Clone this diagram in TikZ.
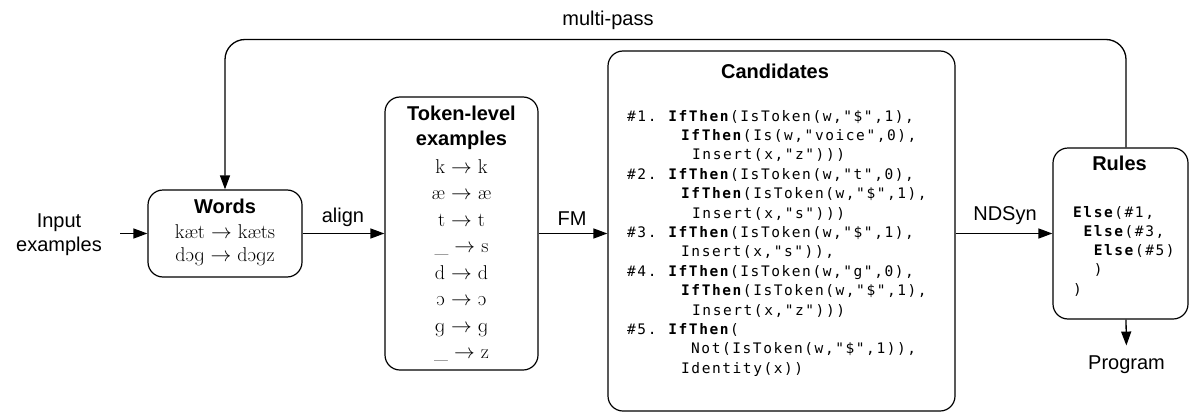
\documentclass[tikz,border=0pt]{standalone}
\usepackage[safe]{tipa}
\usepackage{fontspec}
\setsansfont{Liberation Sans}
\setmonofont{DejaVu Sans Mono}[LetterSpace=10.8]
\usetikzlibrary{arrows.meta}
\begin{document}
\begin{tikzpicture}[x=1pt,y=-1pt,
  box/.style={draw,line width=1.2pt,rounded corners=15pt,inner sep=0pt},
  lbl/.style={font=\sffamily\fontsize{20}{24}\selectfont,inner sep=0pt,anchor=base},
  ttl/.style={font=\sffamily\bfseries\fontsize{20}{24}\selectfont,inner sep=0pt,anchor=base},
  ipa/.style={font=\fontsize{20}{24}\selectfont,inner sep=0pt,anchor=base},
  code/.style={font=\ttfamily\fontsize{14.5}{19}\selectfont,inner sep=0pt,anchor=base west},
  arr/.style={-{Triangle[length=14pt,width=10pt]},line width=1.3pt}]
\useasboundingbox (0,0) rectangle (1190,412);

% boxes
\node[box,minimum width=154pt,minimum height=87pt] (words) at (225,233.5) {};
\node[box,minimum width=153pt,minimum height=273pt] (token) at (461.5,233.5) {};
\node[box,minimum width=347pt,minimum height=360pt] (cand) at (781.5,231) {};
\node[box,minimum width=135pt,minimum height=171pt] (rules) at (1120.5,233.5) {};

% input
\node[lbl] (input1) at (59,227) {Input};
\node[lbl] (input2) at (59,251) {examples};
\coordinate (inarrow) at (120,233.5);

% words content
\node[ttl] (wordsT) at (225,213) {Words};
\node[ipa] (w1) at (225,238) {kæt $\rightarrow$ kæts};
\node[ipa] (w2) at (225,261) {d\textipa{Og} $\rightarrow$ d\textipa{Og}z};

% token content
\node[ttl] (tokT1) at (461.5,120) {Token-level};
\node[ttl] (tokT2) at (461.5,145) {examples};
\node[ipa] (t1) at (461.5,173) {k $\rightarrow$ k};
\node[ipa] (t2) at (461.5,199.5) {æ $\rightarrow$ æ};
\node[ipa] (t3) at (461.5,226) {t $\rightarrow$ t};
\node[ipa] (t4) at (461.5,252.5) {\_ $\rightarrow$ s};
\node[ipa] (t5) at (461.5,279) {d $\rightarrow$ d};
\node[ipa] (t6) at (461.5,305.5) {\textipa{O} $\rightarrow$ \textipa{O}};
\node[ipa] (t7) at (461.5,332) {\textipa{g} $\rightarrow$ \textipa{g}};
\node[ipa] (t8) at (461.5,358.5) {\_ $\rightarrow$ z};

% candidates content
\node[ttl] (candT) at (775,78) {Candidates};
\node[code] (c1) at (627,121) {\#1. \textbf{IfThen}(IsToken(w,"\$",1),};
\node[code] (c2) at (681,140.4) {\textbf{IfThen}(Is(w,"voice",0),};
\node[code] (c3) at (692,159.8) {Insert(x,"z")))};
\node[code] (c4) at (627,179.2) {\#2. \textbf{IfThen}(IsToken(w,"t",0),};
\node[code] (c5) at (681,198.6) {\textbf{IfThen}(IsToken(w,"\$",1),};
\node[code] (c6) at (692,218) {Insert(x,"s")))};
\node[code] (c7) at (627,237.4) {\#3. \textbf{IfThen}(IsToken(w,"\$",1),};
\node[code] (c8) at (681,256.8) {Insert(x,"s")),};
\node[code] (c9) at (627,276.2) {\#4. \textbf{IfThen}(IsToken(w,"g",0),};
\node[code] (c10) at (681,295.6) {\textbf{IfThen}(IsToken(w,"\$",1),};
\node[code] (c11) at (692,315) {Insert(x,"z")))};
\node[code] (c12) at (627,334.4) {\#5. \textbf{IfThen}(};
\node[code] (c13) at (691,353.8) {Not(IsToken(w,"\$",1)),};
\node[code] (c14) at (681,373.2) {Identity(x))};

% rules content
\node[ttl] (rulesT) at (1119.5,170) {Rules};
\node[code] (r1) at (1073,217) {\textbf{Else}(\#1,};
\node[code] (r2) at (1083.3,236) {\textbf{Else}(\#3,};
\node[code] (r3) at (1093.6,255) {\textbf{Else}(\#5)};
\node[code] (r4) at (1093.6,274.5) {)};
\node[code] (r5) at (1073,294) {)};

% program
\node[lbl] (prog) at (1126.5,369) {Program};

% multi-pass
\node[lbl] (mp) at (608,26) {multi-pass};
\coordinate (loopR) at (1126,39.5);

% connectors
\draw[arr] (inarrow) -- (words.west);
\draw[arr] (words.east) -- (token.west);
\node[lbl] (alignL) at (343,222) {align};
\draw[arr] (token.east) -- (token.east -| cand.west);
\node[lbl] (fmL) at (572,225) {FM};
\draw[arr] (rules.west -| cand.east) -- (rules.west);
\node[lbl] (ndL) at (1005,220) {NDSyn};
\draw[arr,rounded corners=20pt] (rules.north -| loopR) -- (loopR) -- (loopR -| words.north) -- (words.north);
\draw[arr,shorten >=9.5pt] (rules.south -| loopR) -- (prog.north);
\end{tikzpicture}
\end{document}
